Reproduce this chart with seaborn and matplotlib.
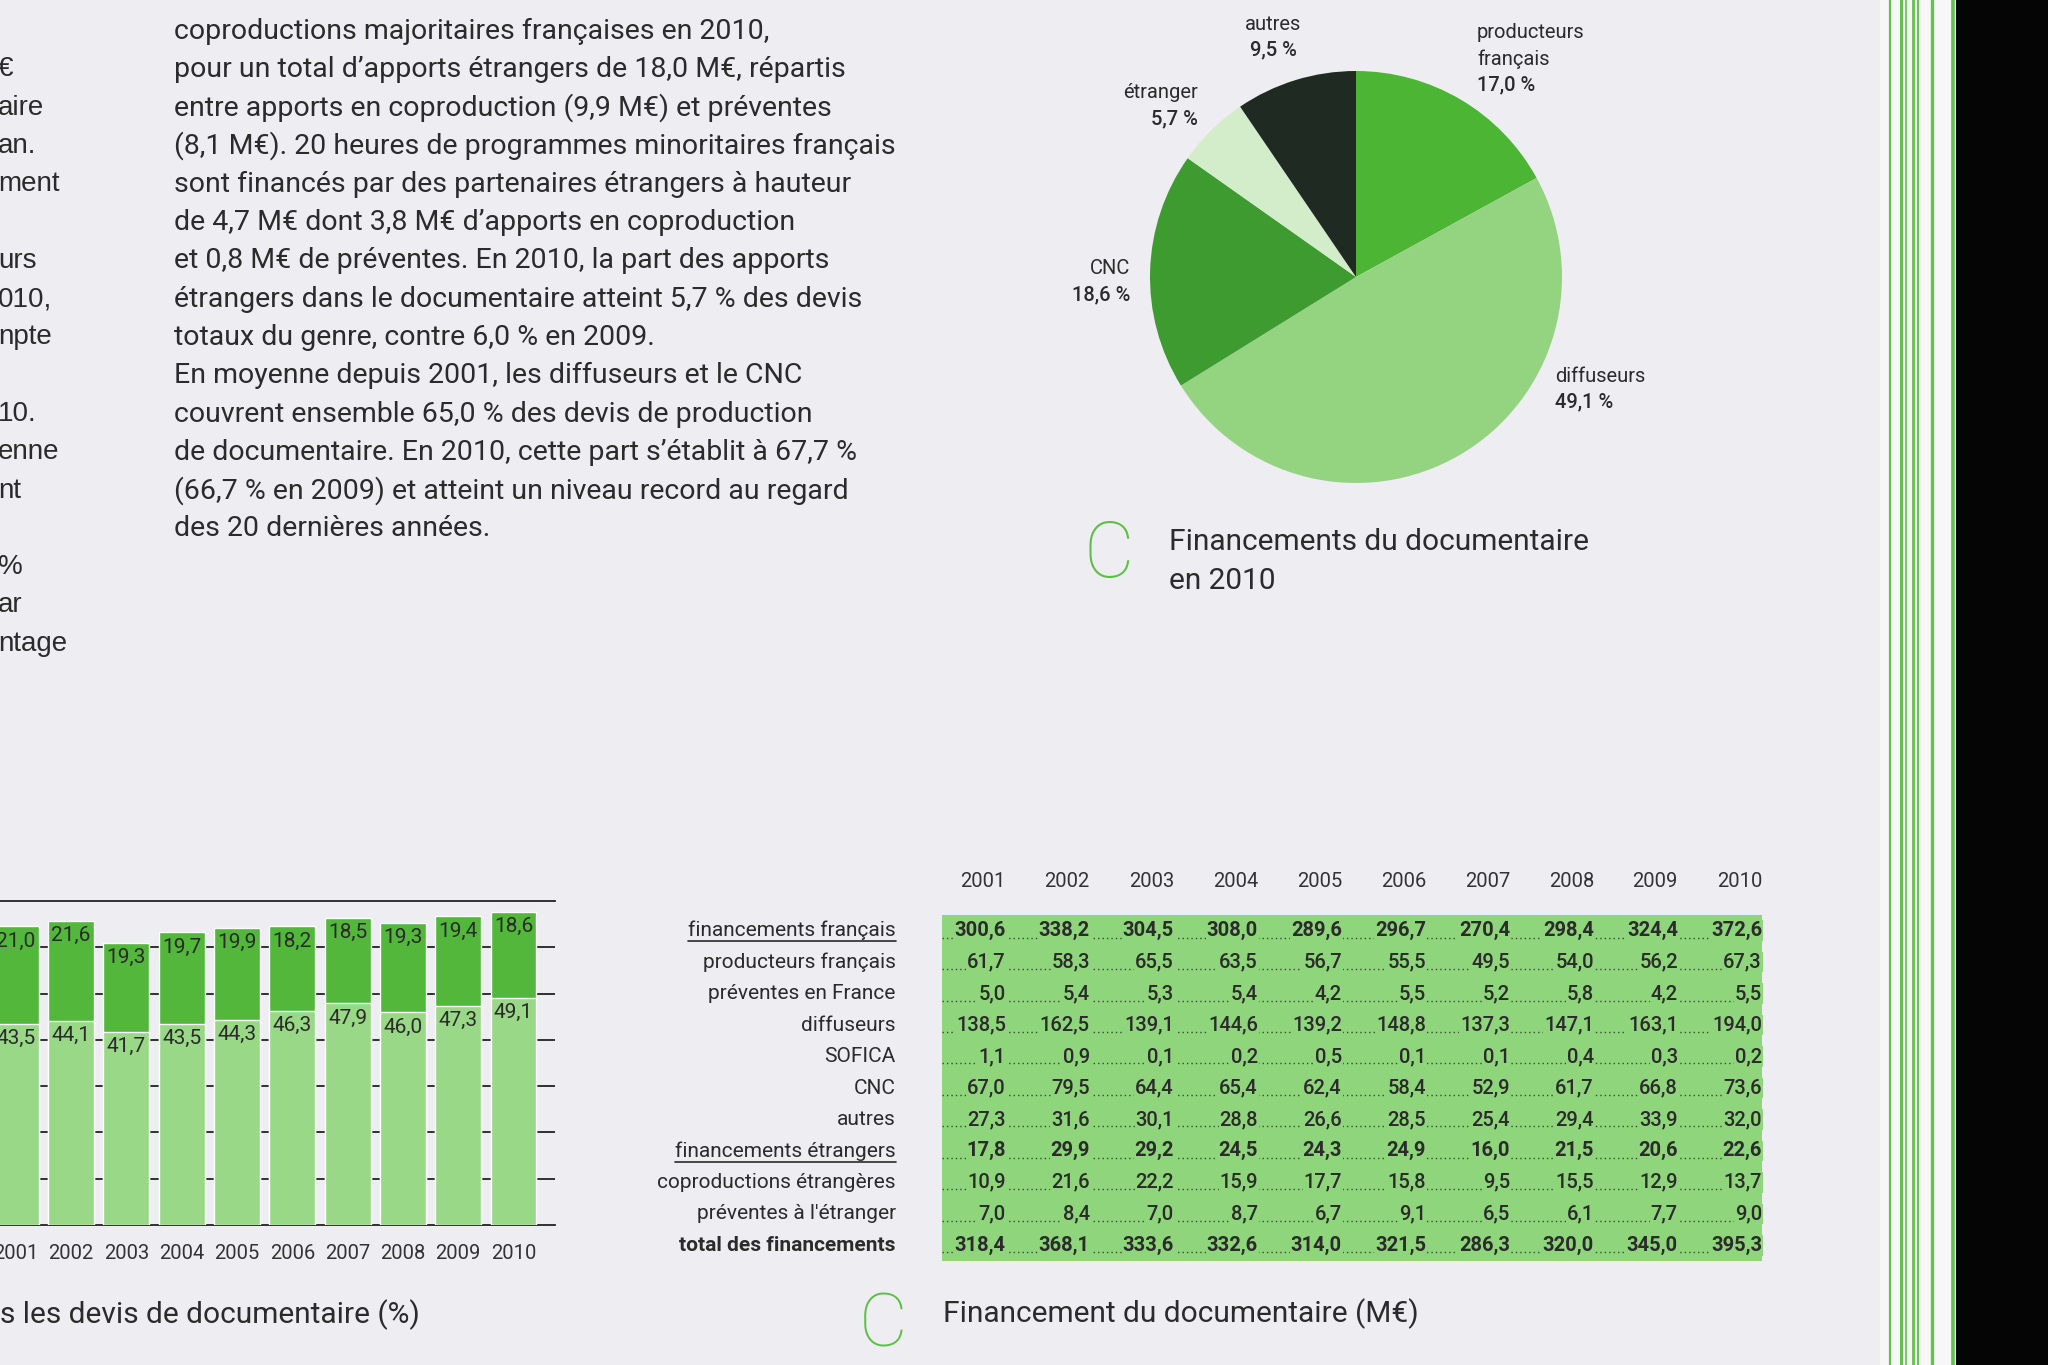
import numpy as np
import pandas as pd
import matplotlib
matplotlib.use("Agg")
import matplotlib.pyplot as plt
import seaborn as sns
from matplotlib.colors import ListedColormap
from matplotlib.lines import Line2D
from matplotlib.patches import Rectangle

# ---------------- data ----------------
years = ["2001", "2002", "2003", "2004", "2005", "2006", "2007", "2008", "2009", "2010"]
diffuseurs_pct = [43.5, 44.1, 41.7, 43.5, 44.3, 46.3, 47.9, 46.0, 47.3, 49.1]
cnc_pct = [21.0, 21.6, 19.3, 19.7, 19.9, 18.2, 18.5, 19.3, 19.4, 18.6]

pie_names = ["producteurs\nfrançais", "diffuseurs", "CNC", "étranger", "autres"]
pie_values = [17.0, 49.1, 18.6, 5.7, 9.5]

row_labels = ["financements français", "producteurs français", "préventes en France",
              "diffuseurs", "SOFICA", "CNC", "autres", "financements étrangers",
              "coproductions étrangères", "préventes à l'étranger", "total des financements"]
fin_francais = [300.6, 338.2, 304.5, 308.0, 289.6, 296.7, 270.4, 298.4, 324.4, 372.6]
producteurs = [61.7, 58.3, 65.5, 63.5, 56.7, 55.5, 49.5, 54.0, 56.2, 67.3]
preventes_fr = [5.0, 5.4, 5.3, 5.4, 4.2, 5.5, 5.2, 5.8, 4.2, 5.5]
diffuseurs = [138.5, 162.5, 139.1, 144.6, 139.2, 148.8, 137.3, 147.1, 163.1, 194.0]
sofica = [1.1, 0.9, 0.1, 0.2, 0.5, 0.1, 0.1, 0.4, 0.3, 0.2]
cnc = [67.0, 79.5, 64.4, 65.4, 62.4, 58.4, 52.9, 61.7, 66.8, 73.6]
autres = [27.3, 31.6, 30.1, 28.8, 26.6, 28.5, 25.4, 29.4, 33.9, 32.0]
fin_etrangers = [17.8, 29.9, 29.2, 24.5, 24.3, 24.9, 16.0, 21.5, 20.6, 22.6]
coprod_etr = [10.9, 21.6, 22.2, 15.9, 17.7, 15.8, 9.5, 15.5, 12.9, 13.7]
preventes_etr = [7.0, 8.4, 7.0, 8.7, 6.7, 9.1, 6.5, 6.1, 7.7, 9.0]
total = [318.4, 368.1, 333.6, 332.6, 314.0, 321.5, 286.3, 320.0, 345.0, 395.3]
bold_rows = [0, 7, 10]
underlined_rows = [0, 7]

body_lines = [
    "coproductions majoritaires françaises en 2010,",
    "pour un total d’apports étrangers de 18,0 M€, répartis",
    "entre apports en coproduction (9,9 M€) et préventes",
    "(8,1 M€). 20 heures de programmes minoritaires français",
    "sont financés par des partenaires étrangers à hauteur",
    "de 4,7 M€ dont 3,8 M€ d’apports en coproduction",
    "et 0,8 M€ de préventes. En 2010, la part des apports",
    "étrangers dans le documentaire atteint 5,7 % des devis",
    "totaux du genre, contre 6,0 % en 2009.",
    "En moyenne depuis 2001, les diffuseurs et le CNC",
    "couvrent ensemble 65,0 % des devis de production",
    "de documentaire. En 2010, cette part s’établit à 67,7 %",
    "(66,7 % en 2009) et atteint un niveau record au regard",
    "des 20 dernières années.",
]
left_fragments = [(1, "€"), (2, "aire"), (3, "an."), (4, "ment"), (6, "urs"), (7, "010,"),
                  (8, "npte"), (10, "10."), (11, "enne"), (12, "nt"), (14, "%"), (15, "ar"),
                  (16, "ntage")]

# ---------------- style ----------------
BG = "#ededf2"
TXT = "#2b2b2b"
BAR_DARK = "#52b73b"
BAR_LIGHT = "#98d886"
TABLE_GREEN = "#8fd57c"
PIE_COLORS = ["#4db534", "#94d481", "#3d9b30", "#d3ecca", "#1f2b22"]
C_GREEN = "#5cc043"

sns.set_theme(style="white")
plt.rcParams["font.family"] = ["Roboto", "DejaVu Sans"]

W, H = 2048, 1365
def fx(px):
    return px / W
def fy(py):
    return 1 - py / H
def fmt(v):
    return f"{v:.1f}".replace(".", ",")

fig = plt.figure(figsize=(W / 100, H / 100), dpi=100, facecolor=BG)

# ---------------- body text ----------------
LS = 38.3
for k, line in enumerate(body_lines):
    fig.text(fx(174), fy(31 + LS * k), line, fontsize=20.5, color=TXT,
             ha="left", va="center")
for k, frag in left_fragments:
    fig.text(fx(-2), fy(31 + LS * k), frag, fontsize=20, color=TXT,
             ha="left", va="center", family=["Liberation Sans", "DejaVu Sans"])

# ---------------- pie ----------------
pcx, pcy, pr = 1356, 277, 206
ax_pie = fig.add_axes([fx(pcx - pr), fy(pcy + pr), 2 * pr / W, 2 * pr / H])
ax_pie.pie(pie_values, colors=PIE_COLORS, startangle=90, counterclock=False,
           radius=1, wedgeprops=dict(linewidth=0))
ax_pie.set_xlim(-1, 1)
ax_pie.set_ylim(-1, 1)
ax_pie.set_aspect("equal")
ax_pie.axis("off")

pie_label_pos = {
    "producteurs\nfrançais": (1477, 33, "left"),
    "diffuseurs": (1555, 376, "left"),
    "CNC": (1130, 269, "right"),
    "étranger": (1198, 93, "right"),
    "autres": (1273, 24, "center"),
}
for name, val in zip(pie_names, pie_values):
    x, y, ha = pie_label_pos[name]
    parts = name.split("\n")
    for j, p in enumerate(parts):
        fig.text(fx(x), fy(y + 26 * j), p, fontsize=14.5, color=TXT, ha=ha, va="center")
    fig.text(fx(x), fy(y + 26 * len(parts)), fmt(val) + " %", fontsize=14.5, color=TXT,
             ha=ha, va="center", fontweight="medium")

fig.text(fx(1109), fy(556), "C", fontsize=56, color=C_GREEN, ha="center", va="center",
         fontweight="light")
fig.text(fx(1169), fy(542), "Financements du documentaire", fontsize=21.5, color=TXT,
         ha="left", va="center")
fig.text(fx(1169), fy(581), "en 2010", fontsize=21.5, color=TXT, ha="left", va="center")

# ---------------- stacked bars ----------------
df = pd.DataFrame({"annee": years, "diffuseurs": diffuseurs_pct, "CNC": cnc_pct})
df["cumul"] = df["diffuseurs"] + df["CNC"]

ax_bar = fig.add_axes([0, fy(1225), 555 / W, (1225 - 901) / H])
ax_bar.set_facecolor("none")
sns.barplot(data=df, x="annee", y="cumul", color=BAR_DARK, saturation=1, width=0.83,
            ax=ax_bar, zorder=2)
sns.barplot(data=df, x="annee", y="diffuseurs", color=BAR_LIGHT, saturation=1, width=0.83,
            ax=ax_bar, zorder=3)
ax_bar.set_xlim(-0.284, 9.75)
ax_bar.set_ylim(0, 70)
ax_bar.set_yticks(np.arange(10, 70, 10))
ax_bar.set_yticklabels([])
ax_bar.yaxis.grid(True, color="#222222", linewidth=1.3, zorder=0)
ax_bar.set_axisbelow(True)
for s in ["left", "right"]:
    ax_bar.spines[s].set_visible(False)
for s in ["top", "bottom"]:
    ax_bar.spines[s].set_visible(True)
    ax_bar.spines[s].set_color("#222222")
    ax_bar.spines[s].set_linewidth(1.3)
ax_bar.tick_params(axis="both", length=0)
ax_bar.tick_params(axis="x", labelsize=14.5, labelcolor="#333333", pad=14)
ax_bar.set_xlabel("")
ax_bar.set_ylabel("")
for i, row in df.iterrows():
    ax_bar.text(i, row["diffuseurs"] - 3.2, fmt(row["diffuseurs"]), ha="center", va="center",
                fontsize=15, color=TXT, zorder=5)
    ax_bar.text(i, row["cumul"] - 3.2, fmt(row["CNC"]), ha="center", va="center",
                fontsize=15, color=TXT, zorder=5)

fig.text(0, fy(1315), "s les devis de documentaire (%)", fontsize=21.5, color=TXT,
         ha="left", va="center")

# ---------------- table ----------------
table_values = [fin_francais, producteurs, preventes_fr, diffuseurs, sofica, cnc, autres,
                fin_etrangers, coprod_etr, preventes_etr, total]
tab = pd.DataFrame(table_values, index=row_labels, columns=years)

ax_tab = fig.add_axes([fx(942), fy(1261), 820 / W, 346 / H])
sns.heatmap(np.ones(tab.shape), cmap=ListedColormap([TABLE_GREEN]), cbar=False,
            xticklabels=False, yticklabels=False, ax=ax_tab, linewidths=0)
ax_tab.set_xlim(0.24, 10)
ax_tab.set_ylim(len(row_labels), 0)

for r in range(len(row_labels)):
    ax_tab.hlines(r + 0.72, 0.24, 10, colors="#3a4a38", linestyles=(0, (1, 2.2)),
                  linewidth=1.0, zorder=2)
    bold = r in bold_rows
    for c in range(len(years)):
        ax_tab.text(c + 1, r + 0.5, fmt(tab.iloc[r, c]), ha="right", va="center",
                    fontsize=14.5, color=TXT, fontweight="bold" if bold else "medium",
                    zorder=3, bbox=dict(facecolor=TABLE_GREEN, edgecolor="none", pad=0.6))
for c, y in enumerate(years):
    ax_tab.text(c + 1, -1.05, y, ha="right", va="center", fontsize=14.5, color="#333333",
                clip_on=False)
label_texts = []
for r, lab in enumerate(row_labels):
    t = ax_tab.text(-0.31, r + 0.5, lab, ha="right", va="center", fontsize=15, color=TXT,
                    fontweight="bold" if r in bold_rows[2:] else "normal", clip_on=False)
    label_texts.append(t)

fig.text(fx(883), fy(1326), "C", fontsize=54, color=C_GREEN, ha="center", va="center",
         fontweight="light")
fig.text(fx(943), fy(1314), "Financement du documentaire (M€)", fontsize=21.5, color=TXT,
         ha="left", va="center")

# ---------------- page edge ----------------
fig.add_artist(Rectangle((fx(1880), 0), fx(1956) - fx(1880), 1, transform=fig.transFigure,
                         facecolor="#f7f7f8", edgecolor="none", zorder=0))
for xg, lw in [(1890, 1.6), (1901, 2.2), (1906, 1.2), (1913, 2.0), (1918, 1.4),
               (1932, 2.4), (1953, 2.6)]:
    fig.add_artist(Line2D([fx(xg), fx(xg)], [0, 1], transform=fig.transFigure,
                          color="#62c24c", linewidth=lw, zorder=1))
fig.add_artist(Rectangle((fx(1956), 0), 1 - fx(1956), 1, transform=fig.transFigure,
                         facecolor="#050505", edgecolor="none", zorder=2))

# underline for section rows
fig.canvas.draw()
renderer = fig.canvas.get_renderer()
for r in underlined_rows:
    bb = label_texts[r].get_window_extent(renderer)
    fig.add_artist(Line2D([bb.x0 / W, bb.x1 / W], [(bb.y0 - 1) / H, (bb.y0 - 1) / H],
                          transform=fig.transFigure, color=TXT, linewidth=1.2))

fig.savefig("out.png", dpi=100, facecolor=BG)
